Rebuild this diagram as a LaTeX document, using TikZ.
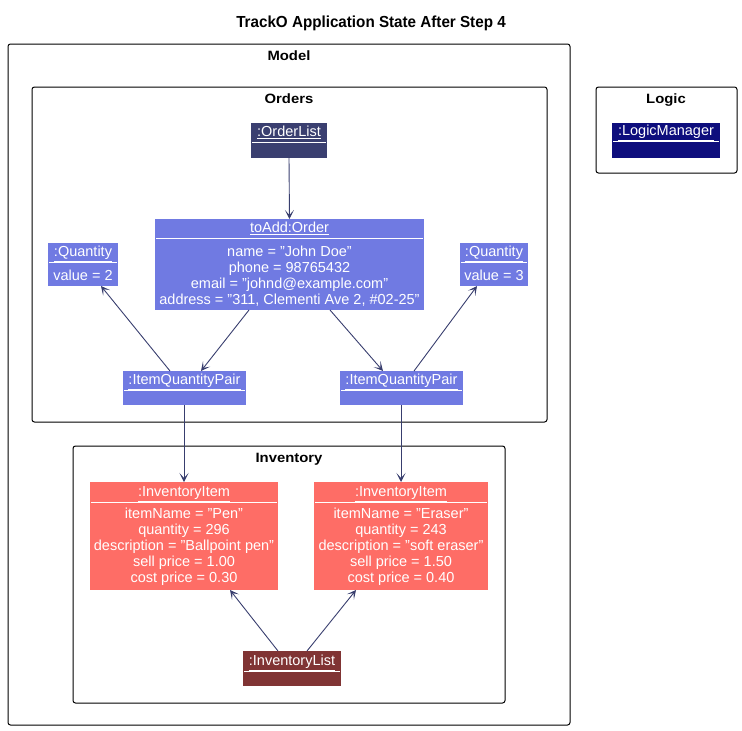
\documentclass[tikz,border=0pt]{standalone}
\usepackage{fontspec}
\setmainfont{Liberation Sans}
\newfontfamily\framefont[FakeStretch=1.1]{Liberation Sans}
\newfontfamily\titlefont[FakeStretch=0.95]{Liberation Sans}
\usetikzlibrary{arrows.meta,calc}
\definecolor{cBlue}{RGB}{112,122,226}
\definecolor{cOL}{RGB}{58,63,112}
\definecolor{cLM}{RGB}{14,14,125}
\definecolor{cInv}{RGB}{254,109,102}
\definecolor{cIL}{RGB}{128,52,52}
\definecolor{cArr}{RGB}{56,62,110}
\newcommand\umlobj[8]{%
  \node[objbox, fill=#7, minimum width=#4pt, minimum height=#5pt, anchor=north west] (#1) at (#2,#3) {};
  \node[hdr, anchor=base] (#1-h) at ([yshift=-#6pt+5.5pt]#1.north) {\underline{#8}};
  \draw[sepline] ([yshift=-#6pt, xshift=1pt]#1.north west) -- ([yshift=-#6pt, xshift=-1pt]#1.north east);
}
\begin{document}
\begin{tikzpicture}[x=1pt,y=-1pt,
  objbox/.style={draw=none, inner sep=0pt, outer sep=0pt},
  hdr/.style={text=white, font=\fontsize{14.5}{16}\selectfont, inner sep=0pt},
  bodytext/.style={text=white, font=\fontsize{14.5}{16}\selectfont, align=center, inner sep=0pt},
  sepline/.style={white, line width=0.8pt},
  frame/.style={draw=black, line width=1pt, rounded corners=2.5pt},
  framelabel/.style={font=\framefont\bfseries\fontsize{13.5}{16}\selectfont, inner sep=0pt, anchor=base},
  arr/.style={draw=cArr, line width=0.9pt, -{Stealth[length=9pt,width=9pt,inset=5pt]}}
]
\useasboundingbox (0,0) rectangle (742,731);

\node[font=\titlefont\bfseries\fontsize{16}{18}\selectfont, inner sep=0pt, anchor=base] (title) at (371,27) {TrackO Application State After Step 4};

% frames
\draw[frame] (8,44) rectangle (570,725);
\node[framelabel] (lblModel) at (289,60.5) {Model};
\draw[frame] (32,87) rectangle (547,422);
\node[framelabel] (lblOrders) at (289,103.5) {Orders};
\draw[frame] (73,446) rectangle (505,703);
\node[framelabel] (lblInv) at (289,462.5) {Inventory};
\draw[frame] (596,87) rectangle (737,173);
\node[framelabel] (lblLogic) at (666,103.5) {Logic};

% objects
\umlobj{orderlist}{251}{123}{76}{35}{19}{cOL}{:OrderList}
\umlobj{order}{155}{219}{269}{91}{19}{cBlue}{toAdd:Order}
\node[bodytext] (order-b) at (289.5,276) {name = "John Doe"\\phone = 98765432\\email = "johnd@example.com"\\address = "311, Clementi Ave 2, \#02-25"};
\umlobj{qleft}{48}{243}{70}{43}{19}{cBlue}{:Quantity}
\node[bodytext] (qleft-b) at (83,275) {value = 2};
\umlobj{qright}{460}{243}{68}{43}{19}{cBlue}{:Quantity}
\node[bodytext] (qright-b) at (494,275) {value = 3};
\umlobj{iqpl}{123}{371}{123}{34}{19}{cBlue}{:ItemQuantityPair}
\umlobj{iqpr}{340}{371}{123}{34}{19}{cBlue}{:ItemQuantityPair}
\umlobj{invl}{90}{482}{188}{108}{20}{cInv}{:InventoryItem}
\node[bodytext] (invl-b) at (184,547) {itemName = "Pen"\\quantity = 296\\description = "Ballpoint pen"\\sell price = 1.00\\cost price = 0.30};
\umlobj{invr}{314}{482}{174}{108}{20}{cInv}{:InventoryItem}
\node[bodytext] (invr-b) at (401,547) {itemName = "Eraser"\\quantity = 243\\description = "soft eraser"\\sell price = 1.50\\cost price = 0.40};
\umlobj{invlist}{243}{651}{98}{35}{20}{cIL}{:InventoryList}
\umlobj{logicmgr}{612}{123}{108}{35}{18}{cLM}{:LogicManager}

% connectors
\draw[arr] (orderlist.south) -- (order.north);
\draw[arr] ([xshift=94pt]order.south west) -- ([xshift=78pt]iqpl.north west);
\draw[arr] ([xshift=175pt]order.south west) -- ([xshift=43pt]iqpr.north west);
\draw[arr] ([xshift=47pt]iqpl.north west) -- ([xshift=53pt]qleft.south west);
\draw[arr] ([xshift=74pt]iqpr.north west) -- ([xshift=17pt]qright.south west);
\draw[arr] ([xshift=61pt]iqpl.south west) -- ([xshift=94pt]invl.north west);
\draw[arr] ([xshift=61pt]iqpr.south west) -- ([xshift=87pt]invr.north west);
\draw[arr] ([xshift=35pt]invlist.north west) -- ([xshift=140pt]invl.south west);
\draw[arr] ([xshift=64pt]invlist.north west) -- ([xshift=42pt]invr.south west);
\end{tikzpicture}
\end{document}
